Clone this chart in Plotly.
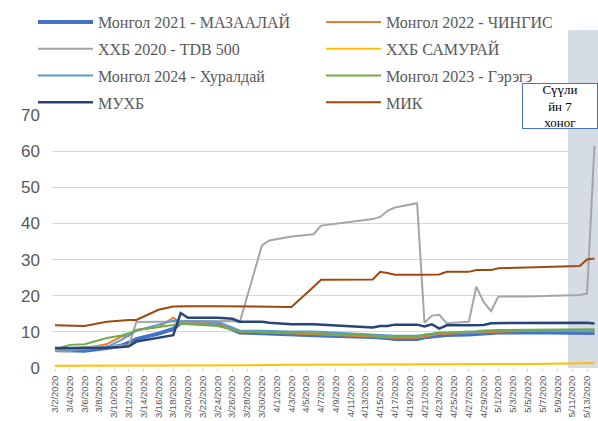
import plotly.graph_objects as go

# trading dates
dates = ["2020-03-02", "2020-03-04", "2020-03-06", "2020-03-09", "2020-03-11", "2020-03-12",
         "2020-03-13", "2020-03-16", "2020-03-18", "2020-03-19", "2020-03-20", "2020-03-24",
         "2020-03-26", "2020-03-27", "2020-03-30", "2020-03-31", "2020-04-03", "2020-04-06",
         "2020-04-07", "2020-04-14", "2020-04-15", "2020-04-16", "2020-04-17", "2020-04-20",
         "2020-04-21", "2020-04-22", "2020-04-23", "2020-04-24", "2020-04-27", "2020-04-28",
         "2020-04-29", "2020-04-30", "2020-05-01", "2020-05-05", "2020-05-08", "2020-05-12",
         "2020-05-13", "2020-05-14"]

mongol2021 = [5.0, 4.8, 4.8, 5.5, 6.2, 7.0, 8.0, 9.5, 10.8, 12.5, 12.6, 12.5, 10.7, 9.8, 9.6, 9.5,
              9.4, 9.0, 9.0, 8.6, 8.5, 8.3, 8.0, 8.0, 8.5, 8.7, 9.1, 9.1, 9.3, 9.4, 9.5, 9.6,
              9.8, 9.9, 9.9, 9.8, 9.8, 9.7]
mongol2022 = [4.6, 4.6, 5.5, 6.6, 8.7, 8.9, 10.5, 11.3, 13.9, 12.4, 12.5, 12.5, 10.7, 10.0, 9.9, 9.8,
              9.6, 9.4, 9.3, 8.7, 8.6, 8.5, 8.4, 8.4, 8.8, 9.0, 9.4, 9.5, 9.6, 9.8, 9.9, 10.0,
              10.1, 10.3, 10.3, 10.2, 10.2, 10.2]
tdb500 = [5.0, 5.5, 5.8, 6.0, 6.2, 6.3, 12.7, 12.8, 12.9, 12.8, 12.8, 12.9, 13.0, 12.7, 33.9, 35.3,
          36.4, 37.0, 39.4, 41.2, 41.8, 43.5, 44.4, 45.6, 12.5, 14.5, 14.7, 12.4, 12.8, 22.5, 18.3, 15.7,
          19.8, 19.8, 19.9, 20.2, 20.6, 61.5]
samurai = [0.6, 0.6, 0.6, 0.6, 0.6, 0.6, 0.6, 0.7, 0.7, 0.7, 0.7, 0.8, 0.8, 0.8, 0.8, 0.8,
           0.9, 0.9, 0.9, 1.0, 1.0, 1.0, 1.0, 1.0, 1.0, 1.0, 1.0, 1.0, 1.1, 1.1, 1.1, 1.1,
           1.1, 1.1, 1.2, 1.2, 1.3, 1.4]
mongol2024 = [5.2, 5.0, 5.2, 5.8, 7.8, 9.0, 10.3, 12.0, 13.1, 12.9, 13.0, 12.8, 11.2, 10.4, 10.3, 10.2,
              10.1, 10.1, 10.0, 9.4, 9.2, 9.0, 8.9, 8.9, 9.3, 9.5, 9.6, 9.6, 9.8, 10.0, 10.1, 10.2,
              10.3, 10.4, 10.5, 10.4, 10.4, 10.4]
mongol2023 = [5.1, 6.4, 6.6, 8.3, 9.0, 9.6, 10.5, 11.3, 11.9, 12.4, 12.1, 11.6, 10.5, 10.1, 9.9, 9.8,
              9.7, 9.6, 9.5, 9.0, 8.9, 8.8, 8.7, 8.7, 9.2, 9.4, 9.8, 9.8, 10.0, 10.2, 10.4, 10.5,
              10.5, 10.6, 10.7, 10.7, 10.7, 10.7]
mukhb = [5.5, 5.5, 5.5, 5.6, 5.8, 6.0, 7.3, 8.4, 9.1, 15.2, 13.9, 13.9, 13.6, 12.8, 12.8, 12.5,
         12.1, 12.1, 12.0, 11.2, 11.6, 11.6, 12.0, 12.0, 11.5, 12.1, 10.9, 11.8, 11.8, 11.8, 11.9, 12.4,
         12.4, 12.4, 12.6, 12.4, 12.5, 12.3]
mik = [11.8, 11.6, 11.6, 12.8, 13.2, 13.3, 13.3, 16.1, 17.0, 17.1, 17.1, 17.1, 17.1, 16.9, 16.9, 16.9,
       16.9, 22.5, 24.4, 24.5, 26.6, 26.3, 25.8, 25.8, 25.8, 25.8, 25.9, 26.6, 26.6, 27.1, 27.1, 27.1,
       27.6, 27.8, 28.0, 28.2, 30.0, 30.3]

series = [
    ("Монгол 2021 - МАЗААЛАЙ", mongol2021, "#4472C4", 4, "legend"),
    ("Монгол 2022 - ЧИНГИС", mongol2022, "#ED7D31", 2, "legend2"),
    ("ХХБ 2020 - TDB 500", tdb500, "#A5A5A5", 2, "legend"),
    ("ХХБ САМУРАЙ", samurai, "#FFC000", 2, "legend2"),
    ("Монгол 2024 - Хуралдай", mongol2024, "#5B9BD5", 2, "legend"),
    ("Монгол 2023 - Гэрэгэ", mongol2023, "#70AD47", 2, "legend2"),
    ("МУХБ", mukhb, "#264478", 2.5, "legend"),
    ("МИК", mik, "#9E480E", 2, "legend2"),
]

fig = go.Figure()
for name, vals, color, width, leg in series:
    fig.add_trace(go.Scatter(
        x=dates, y=vals, mode="lines", name=name,
        line=dict(color=color, width=width),
        legend=leg, legendgroup=name,
    ))

# last week highlight
fig.add_shape(type="rect", xref="x", yref="paper",
              x0="2020-05-10 10:00", x1="2020-05-20", y0=0, y1=1.336,
              fillcolor="#D6DCE5", line=dict(width=0), layer="below")

fig.add_annotation(text="Сүүли<br>йн 7<br>хоног", xref="paper", yref="paper",
                   x=0.861, y=1.128, xanchor="left", yanchor="top",
                   showarrow=False, align="center", width=72, height=42,
                   font=dict(family="Liberation Serif", size=13, color="black"),
                   bgcolor="white", bordercolor="#4472C4", borderwidth=1, borderpad=1)

legend_style = dict(font=dict(family="Liberation Serif", size=16, color="#595959"),
                    orientation="v", xref="container", yref="container",
                    xanchor="left", yanchor="top", itemwidth=55,
                    tracegroupgap=3, bgcolor="rgba(0,0,0,0)")

fig.update_layout(
    width=598, height=421,
    margin=dict(l=52, r=0, t=115, b=53, autoexpand=False),
    paper_bgcolor="white", plot_bgcolor="white",
    font=dict(family="Liberation Sans", color="#595959"),
    legend=dict(x=33 / 598, y=1 - 5 / 421, **legend_style),
    legend2=dict(x=321 / 598, y=1 - 5 / 421, **legend_style),
    xaxis=dict(type="date", range=["2020-03-01 14:10", "2020-05-14 11:30"],
               tick0="2020-03-02", dtick=2 * 86400000, tickformat="%-m/%-d/%Y",
               tickangle=-90, tickfont=dict(size=9.5, color="#595959"),
               showgrid=False, ticks="outside", ticklen=3, tickcolor="#D9D9D9",
               showline=False, zeroline=False, automargin=False),
    yaxis=dict(range=[0, 70], dtick=10, tickfont=dict(size=17, color="#595959"),
               gridcolor="#D9D9D9", gridwidth=1, zeroline=False, showline=False,
               ticklabelstandoff=11, automargin=False),
)

fig.write_html("out.html", config={"displayModeBar": False},
               post_script="document.body.style.margin='0';")
